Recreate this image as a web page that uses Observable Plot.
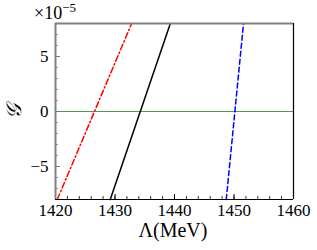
<!DOCTYPE html>
<html><head><meta charset="utf-8">
<script src="https://cdn.jsdelivr.net/npm/d3@7"></script>
<script src="https://cdn.jsdelivr.net/npm/@observablehq/plot@0.6"></script>
<style>
body{margin:0;background:#fff;}
</style></head><body><div id="chart"></div>
<script>
const redX = [1420.3, 1432.8];
const redY = [-8, 8];
const blackX = [1429.2, 1439.3];
const blackY = [-8, 8];
const blueX = [1448.7, 1451.6];
const blueY = [-8, 8];
const xTicks = [1420, 1430, 1440, 1450, 1460];
const yTicks = [-5, 0, 5];
const xMinor = d3.range(1420, 1461, 2);
const yMinor = d3.range(-8, 8.01, 1);

const pts = (xs, ys) => xs.map((x, i) => ({x, y: ys[i]}));
const W = 317, H = 250, mL = 55, mR = 24, mT = 23, mB = 51;
const fh = H - mT - mB;
const SERIF = "'Liberation Serif', 'DejaVu Serif', serif";

const chart = Plot.plot({
  width: W, height: H,
  marginLeft: mL, marginRight: mR, marginTop: mT, marginBottom: mB,
  style: {fontFamily: SERIF, fontSize: "17px", background: "#fff"},
  x: {domain: [1420, 1460], axis: null},
  y: {domain: [-8, 8], axis: null},
  marks: [
    Plot.ruleY([0], {stroke: "#4f9a4f", strokeWidth: 1}),
    Plot.line(pts(redX, redY), {x: "x", y: "y", stroke: "#ff0000", strokeWidth: 1.5, strokeDasharray: "6,2.5,1.5,2.5"}),
    Plot.line(pts(blackX, blackY), {x: "x", y: "y", stroke: "#000", strokeWidth: 1.5}),
    Plot.line(pts(blueX, blueY), {x: "x", y: "y", stroke: "#0000ff", strokeWidth: 1.5, strokeDasharray: "5,3"}),
    Plot.tickX(xMinor, {x: d => d, stroke: "#000", strokeWidth: 0.8, insetTop: fh - 3}),
    Plot.tickX(xTicks, {x: d => d, stroke: "#000", strokeWidth: 1, insetTop: fh - 5}),
    Plot.tickY(yMinor, {y: d => d, stroke: "#777", strokeWidth: 0.8, insetRight: (W - mL - mR) - 3}),
    Plot.tickY(yTicks, {y: d => d, stroke: "#777", strokeWidth: 1, insetRight: (W - mL - mR) - 5}),
    Plot.ruleX([1420], {stroke: "#808080", strokeWidth: 2}),
    Plot.ruleY([8], {stroke: "#808080", strokeWidth: 2}),
    Plot.ruleX([1460], {stroke: "#000", strokeWidth: 1.2}),
    Plot.ruleY([-8], {stroke: "#000", strokeWidth: 1.2}),
    Plot.text(xTicks, {x: d => d, y: -8, text: d => String(d), dy: 11, fontSize: 17, fontFamily: SERIF, fill: "#000"}),
    Plot.text(yTicks, {x: 1420, y: d => d, text: d => d < 0 ? "\u2212" + Math.abs(d) : String(d), dx: -7, textAnchor: "end", fontSize: 17, fontFamily: SERIF, fill: "#000"})
  ]
});
const svg = d3.select(chart);
svg.append("text").attr("x", 173).attr("y", 237).attr("text-anchor", "middle")
  .attr("font-family", SERIF).attr("font-size", 20).attr("fill", "#000").text("\u039B(MeV)");
const sup = svg.append("text").attr("x", 55).attr("y", 19)
  .attr("font-family", SERIF).attr("font-size", 18).attr("fill", "#000");
sup.append("tspan").text("\u00D710");
sup.append("tspan").attr("dy", -7).attr("font-size", 13).text("\u22125");
svg.append("text").attr("transform", "translate(21,111) rotate(-90)").attr("text-anchor", "middle")
  .attr("font-family", SERIF).attr("font-size", 21).attr("font-style", "italic").attr("fill", "#000").text("\uD835\uDCA2");
document.getElementById("chart").appendChild(chart);
</script></body></html>
